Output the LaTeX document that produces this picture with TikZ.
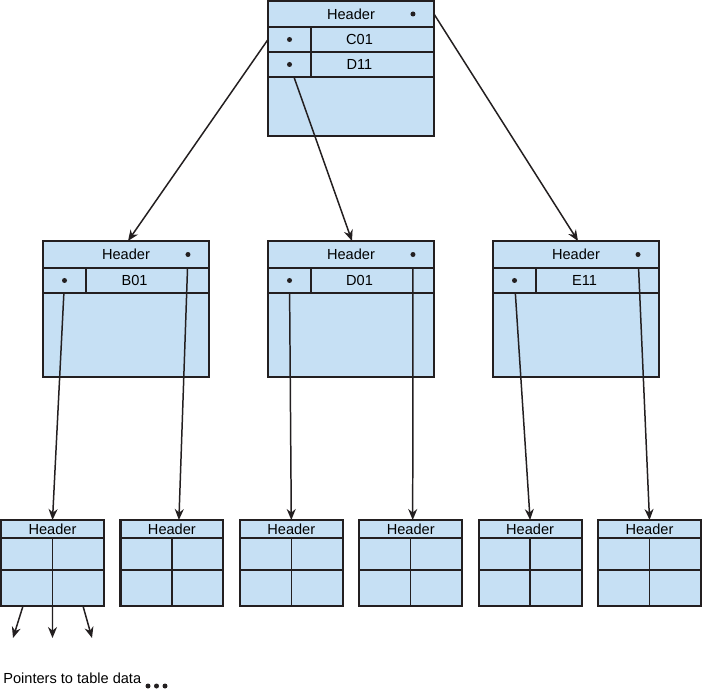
\documentclass[tikz,border=0pt]{standalone}
\usepackage{fontspec}
\setmainfont{Liberation Sans}
\usetikzlibrary{arrows.meta, positioning, fit}
\definecolor{pagefill}{RGB}{198, 224, 244}
\definecolor{ink}{RGB}{35, 31, 32}

\begin{document}
\begin{tikzpicture}[x=0.02cm, y=-0.02cm,
  cell/.style={draw=ink, fill=pagefill, line width=0.85pt, inner sep=0pt, outer sep=0pt, font=\fontsize{8.3}{9}\selectfont},
  frame/.style={draw=ink, line width=1.25pt, inner sep=0pt},
  keytext/.style={label={[font=\fontsize{8.3}{9}\selectfont, xshift=-0.26cm]center:#1}},
  ptr/.style={circle, fill=ink, inner sep=0pt, minimum size=0.1cm},
  arr/.style={-{Stealth[length=0.22cm, width=0.18cm]}, line width=0.85pt, draw=ink},
  hid/.style={shorten <=0.21cm}
]
\useasboundingbox (0,0) rectangle (702,689);

% root page
\node[cell, minimum width=3.32cm, minimum height=0.52cm] (rh) at (351,14) {Header};
\node[cell, minimum width=0.86cm, minimum height=0.5cm, anchor=north west] (rk1) at (rh.south west) {};
\node[cell, minimum width=2.46cm, minimum height=0.5cm, anchor=north west, keytext=C01] (rv1) at (rk1.north east) {};
\node[cell, minimum width=0.86cm, minimum height=0.5cm, anchor=north west] (rk2) at (rk1.south west) {};
\node[cell, minimum width=2.46cm, minimum height=0.5cm, anchor=north west, keytext=D11] (rv2) at (rk2.north east) {};
\node[cell, minimum width=3.32cm, minimum height=1.18cm, anchor=north west] (rb) at (rk2.south west) {};
\node[frame, fit=(rh)(rb)] (root) {};
\node[ptr] (rd0) at ([xshift=-0.42cm]rh.east) {};
\node[ptr] (rd1) at (rk1) {};
\node[ptr] (rd2) at (rk2) {};

% intermediate pages
\foreach \n/\cx/\key in {1/126/B01, 2/351/D01, 3/576/E11} {
  \node[cell, minimum width=3.32cm, minimum height=0.54cm] (m\n-h) at (\cx,254.5) {Header};
  \node[cell, minimum width=0.86cm, minimum height=0.5cm, anchor=north west] (m\n-k) at (m\n-h.south west) {};
  \node[cell, minimum width=2.46cm, minimum height=0.5cm, anchor=north west, keytext=\key] (m\n-v) at (m\n-k.north east) {};
  \node[cell, minimum width=3.32cm, minimum height=1.68cm, anchor=north west] (m\n-b) at (m\n-k.south west) {};
  \node[frame, fit=(m\n-h)(m\n-b)] (m\n) {};
  \node[ptr] (m\n-d0) at ([xshift=-0.42cm]m\n-h.east) {};
  \node[ptr] (m\n-d1) at (m\n-k) {};
}

% leaf pages
\foreach \i in {1,...,6} {
  \node[cell, minimum width=2.06cm, minimum height=0.36cm] (l\i) at ({52.5+119.4*(\i-1)},529) {Header};
  \node[cell, minimum width=1.03cm, minimum height=0.64cm, anchor=north west] (l\i-a) at (l\i.south west) {};
  \node[cell, minimum width=1.03cm, minimum height=0.64cm, anchor=north west] (l\i-b) at (l\i-a.north east) {};
  \node[cell, minimum width=1.03cm, minimum height=0.72cm, anchor=north west] (l\i-c) at (l\i-a.south west) {};
  \node[cell, minimum width=1.03cm, minimum height=0.72cm, anchor=north west] (l\i-d) at (l\i-c.north east) {};
  \node[frame, fit=(l\i)(l\i-d)] (l\i-f) {};
}

% root to intermediate
\draw[arr] (rk1.west) -- ([xshift=0.04cm]m1-h.north);
\draw[arr, hid] (rd2) -- ([xshift=0.02cm]m2-h.north);
\draw[arr] (rh.east) -- ([xshift=0.04cm]m3-h.north);

% intermediate to leaf
\draw[arr, hid] (m1-d1) -- (l1.north);
\draw[arr, hid] (m1-d0) -- ([xshift=0.14cm]l2.north);
\draw[arr, hid] (m2-d1) -- (l3.north);
\draw[arr, hid] (m2-d0) -- ([xshift=0.04cm]l4.north);
\draw[arr, hid] (m3-d1) -- (l5.north);
\draw[arr, hid] (m3-d0) -- (l6.north);

% data pointers
\coordinate (t1) at (13,638);
\coordinate (t2) at (52.5,638);
\coordinate (t3) at (92,638);
\draw[arr] ([xshift=-0.075cm]l1-c.south) -- (t1);
\draw[arr] (l1-c.south east) -- (t2);
\draw[arr] ([xshift=0.095cm]l1-d.south) -- (t3);

\node[anchor=base west, inner sep=0pt, font=\fontsize{8.3}{9}\selectfont] (note) at (3,683) {Pointers to table data};
\node[ptr] (e1) at (148,686) {};
\node[ptr] (e2) at (156.5,686) {};
\node[ptr] (e3) at (165,686) {};
\end{tikzpicture}
\end{document}
